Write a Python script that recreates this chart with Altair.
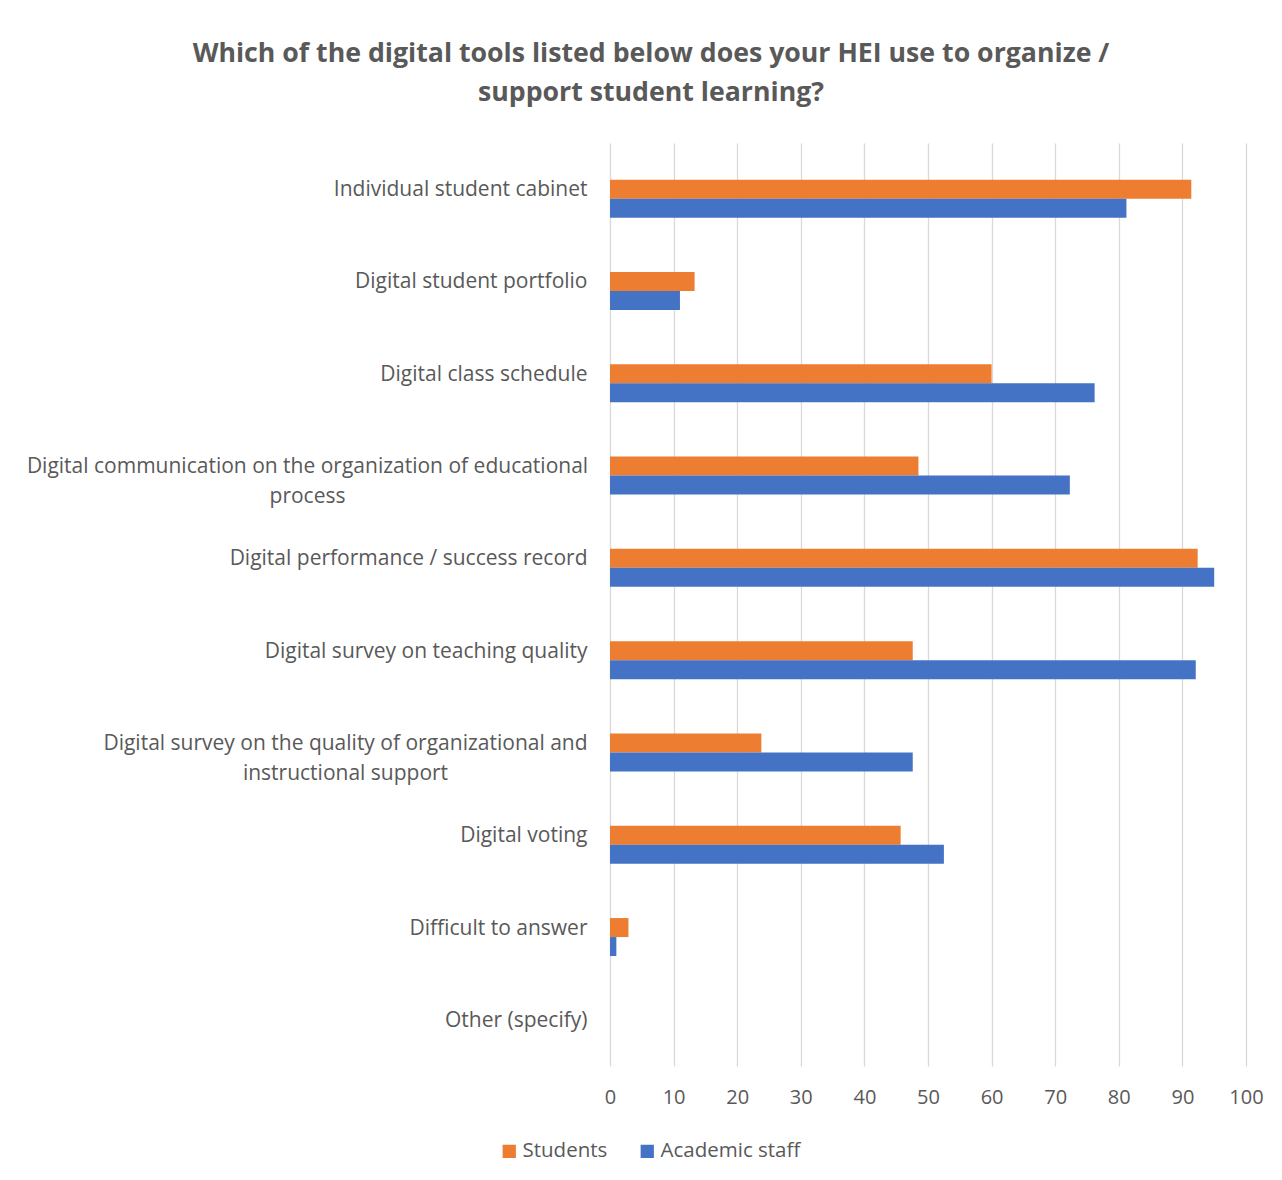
import altair as alt
import pandas as pd

categories = [
    "Individual student cabinet",
    "Digital student portfolio",
    "Digital class schedule",
    "Digital communication on the organization of educational process",
    "Digital performance / success record",
    "Digital survey on teaching quality",
    "Digital survey on the quality of organizational and instructional support",
    "Digital voting",
    "Difficult to answer",
    "Other (specify)",
]
students = [91.4, 13.3, 60.0, 48.5, 92.4, 47.6, 23.8, 45.7, 2.9, 0]
staff = [81.2, 11.0, 76.2, 72.3, 95.0, 92.1, 47.6, 52.5, 1.0, 0]
series = ["Students", "Academic staff"]
colors = ["#ED7D31", "#4472C4"]
x_ticks = list(range(0, 101, 10))

wrapped = {
    "Digital communication on the organization of educational process":
        ["Digital communication on the organization of educational", "process"],
    "Digital survey on the quality of organizational and instructional support":
        ["Digital survey on the quality of organizational and", "instructional support"],
}
# horizontal centre of each wrapped label block, measured from the plot's left edge
wrapped_pad = {
    "Digital communication on the organization of educational process": 303,
    "Digital survey on the quality of organizational and instructional support": 265,
}

rows = []
for c, s, a in zip(categories, students, staff):
    rows.append({"category": c, "series": "Students", "value": s})
    rows.append({"category": c, "series": "Academic staff", "value": a})
df = pd.DataFrame(rows)

label_expr = "datum.value"
for k, v in wrapped.items():
    label_expr = f"datum.value == '{k}' ? ['{v[0]}', '{v[1]}'] : (" + label_expr + ")"

is_wrapped = " || ".join(f"datum.value == '{k}'" for k in wrapped)
label_align = {"condition": {"test": is_wrapped, "value": "center"}, "value": "right"}
label_pad = {
    "condition": [{"test": f"datum.value == '{k}'", "value": p} for k, p in wrapped_pad.items()],
    "value": 23,
}

FONT = "Open Sans"
GREY = "#595959"

chart = (
    alt.Chart(df)
    .mark_bar()
    .encode(
        x=alt.X(
            "value:Q",
            scale=alt.Scale(domain=[0, 100], nice=False),
            axis=alt.Axis(
                values=x_ticks,
                title=None,
                grid=True,
                gridColor="#d9d9d9",
                gridWidth=1.3,
                domain=False,
                ticks=False,
                labelFlush=False,
                labelFontSize=20,
                labelColor=GREY,
                labelFont=FONT,
                labelPadding=21,
            ),
        ),
        y=alt.Y(
            "category:N",
            sort=categories,
            scale=alt.Scale(paddingInner=0, paddingOuter=0),
            axis=alt.Axis(
                title=None,
                domain=False,
                ticks=False,
                labelFontSize=21,
                labelColor=GREY,
                labelFont=FONT,
                labelPadding=label_pad,
                labelAlign=label_align,
                labelOffset=1,
                labelLimit=800,
                labelLineHeight=30,
                labelExpr=label_expr,
            ),
        ),
        yOffset=alt.YOffset(
            "series:N",
            scale=alt.Scale(domain=["_"] + series, paddingInner=0, paddingOuter=0.93),
        ),
        color=alt.Color(
            "series:N",
            scale=alt.Scale(domain=series, range=colors),
            legend=alt.Legend(
                title=None,
                orient="none",
                direction="horizontal",
                legendX=-111,
                legendY=998,
                symbolType="square",
                symbolSize=176,
                symbolStrokeWidth=0,
                labelFontSize=20.5,
                labelColor=GREY,
                labelFont=FONT,
                labelOffset=3,
                columnPadding=29,
            ),
        ),
    )
    .properties(
        width=636,
        height=923,
        title=alt.TitleParams(
            text=[
                "Which of the digital tools listed below does your HEI use to organize /",
                "support student learning?",
            ],
            anchor="middle",
            frame="group",
            dx=-277,
            offset=36,
            fontSize=26.7,
            font=FONT,
            fontWeight="bold",
            color=GREY,
            lineHeight=39,
        ),
        autosize=alt.AutoSizeParams(type="none"),
        padding={"left": 602, "top": 135, "right": 28, "bottom": 100},
    )
    .configure_view(stroke=None)
)

chart.save("out.html", embed_options={"renderer": "svg", "actions": False})
